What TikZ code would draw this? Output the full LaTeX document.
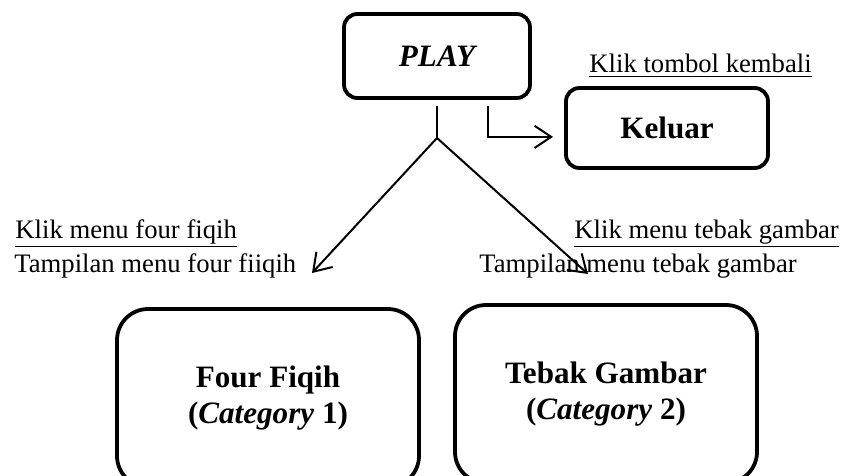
\documentclass[tikz,border=0pt]{standalone}
\usepackage{fontspec}
\setmainfont{Liberation Serif}
\usetikzlibrary{arrows.meta}

\begin{document}
\begin{tikzpicture}[x=0.45pt, y=-0.45pt,
    menubox/.style={draw, line width=1.7pt, rounded corners=6pt, align=center,
      font=\fontsize{14}{16.5}\selectfont\bfseries},
    bigbox/.style={menubox, rounded corners=14pt, minimum width=135.9pt, minimum height=80.1pt},
    caption/.style={font=\fontsize{12}{14}\selectfont, inner sep=0pt, anchor=base west},
    link/.style={line width=0.9pt, -{Straight Barb[length=7.5pt, width=10pt]}}]
    \useasboundingbox (0,0) rectangle (843,475);

    \node[menubox, minimum width=83.7pt, minimum height=37.8pt] (play) at (437,56) {\itshape PLAY};
    \node[menubox, minimum width=90.9pt, minimum height=36pt] (keluar) at (667,128) {Keluar};
    \node[bigbox] (fourfiqih) at (268,398) {Four Fiqih\\(\textit{Category} 1)};
    \node[bigbox] (tebakgambar) at (606,394) {Tebak Gambar\\(\textit{Category} 2)};

    \node[caption] (klikkembali) at (589,73) {\underline{Klik tombol kembali}};
    \node[caption] (klikfour) at (15,238) {\underline{Klik menu four fiqih}};
    \node[caption] (tampilfour) at (14,272) {Tampilan menu four fiiqih};
    \node[caption] (kliktebak) at (574,238) {\underline{Klik menu tebak gambar}};
    \node[caption] (tampiltebak) at (479,272) {Tampilan menu tebak gambar};

    \coordinate (fork) at (437,138);
    \coordinate (tipfour) at (312,273);
    \coordinate (tiptebak) at (588,274);
    \draw[line width=0.9pt] ([yshift=-2.7pt]play.south) -- (fork);
    \draw[link] (fork) -- (tipfour);
    \draw[link] (fork) -- (tiptebak);
    \draw[link] ([xshift=22.9pt, yshift=-2.7pt]play.south) |- ([xshift=-5pt, yshift=-4pt]keluar.west);
\end{tikzpicture}
\end{document}
